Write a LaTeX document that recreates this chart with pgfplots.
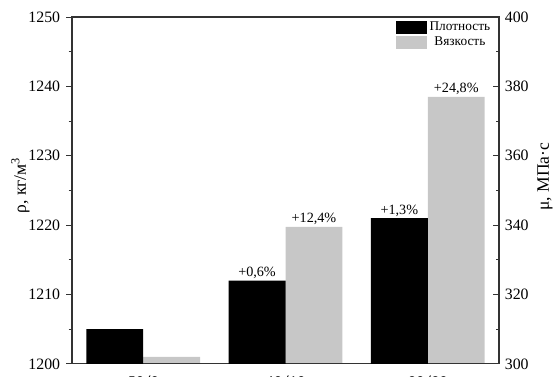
\documentclass[border=0pt]{standalone}
\usepackage{pgfplots}
\pgfplotsset{compat=1.18}
\usepackage{fontspec}
\setmainfont{Liberation Serif}
\newfontfamily\calibri{Carlito}
\definecolor{bargray}{RGB}{199,199,199}
\begin{document}
\begin{tikzpicture}
\pgfplotsset{
  base/.style={
    scale only axis, width=256pt, height=208pt,
    xmin=-0.5, xmax=2.5,
    /pgf/number format/assume math mode=true,
    /pgf/number format/1000 sep={},
    axis line style={line width=0.7pt, black!80},
    major tick length=3.6pt, minor tick length=2pt,
    every tick/.style={line width=0.6pt, black!80},
    yticklabel style={font=\fontsize{9.5}{11}\selectfont},
    nodes near coords style={font=\fontsize{8.5}{10}\selectfont, anchor=south, inner sep=1pt},
  }
}
\begin{axis}[base,
  ymin=300, ymax=400,
  axis y line*=right, axis x line=none,
  ytick={300,320,...,400}, minor y tick num=1,
  tick align=inside,
  ylabel={μ, МПа·с},
  ylabel style={at={(axis description cs:1.108,0.54)}, anchor=center, rotate=0, font=\fontsize{10.5}{12}\selectfont},
]
\addplot[ybar, bar width=0.4, bar shift=0.2, fill=bargray, draw=none,
  nodes near coords, point meta=explicit symbolic,
  every node near coord/.append style={xshift=17.07pt}]
  coordinates {(0,302) [] (1,339.5) [+12,4\%] (2,377) [+24,8\%]};
\end{axis}
\begin{axis}[base,
  ymin=1200, ymax=1250,
  xtick={0,1,2}, xticklabels={50/0,40/10,30/20},
  xticklabel style={font=\calibri\fontsize{10}{12}\selectfont},
  x tick style={draw=none},
  ytick={1200,1210,...,1250}, minor y tick num=1,
  ytick pos=left, tick align=outside,
  ylabel={ρ, кг/м\textsuperscript{3}},
  ylabel style={at={(axis description cs:-0.121,0.515)}, anchor=center, font=\fontsize{10.5}{12}\selectfont},
  legend style={at={(0.99,0.998)}, anchor=north east, draw=none, fill=none,
    font=\fontsize{8}{9}\selectfont, row sep=-1.2pt, inner sep=1pt,
    nodes={inner sep=1.5pt}},
]
\coordinate (sw) at (rel axis cs:0,0);
\coordinate (ne) at (rel axis cs:1,1);
\addlegendimage{legend image code/.code={\fill[black] (0pt,-3.6pt) rectangle (18pt,3.6pt);}}
\addlegendentry{Плотность}
\addlegendimage{legend image code/.code={\fill[bargray] (0pt,-3.6pt) rectangle (18pt,3.6pt);}}
\addlegendentry{Вязкость}
\addplot[ybar, bar width=0.4, bar shift=-0.2, fill=black, draw=none, forget plot,
  nodes near coords, point meta=explicit symbolic,
  every node near coord/.append style={xshift=-17.07pt}]
  coordinates {(0,1205) [] (1,1212) [+0,6\%] (2,1221) [+1,3\%]};
\end{axis}
\pgfresetboundingbox
\path[use as bounding box] ([xshift=-43.2pt,yshift=-7.8pt]sw) rectangle ([xshift=32.4pt,yshift=10.2pt]ne);
\end{tikzpicture}
\end{document}
